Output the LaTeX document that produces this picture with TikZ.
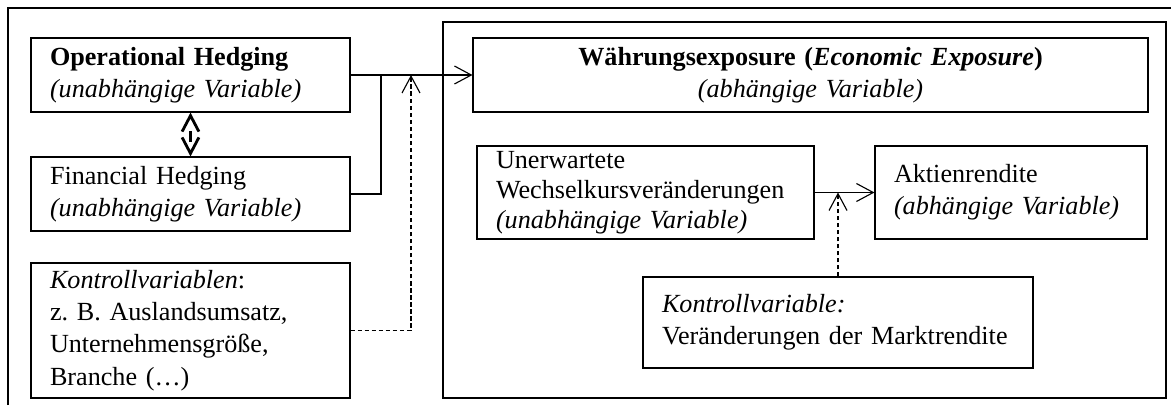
\documentclass[tikz,border=0pt]{standalone}
\usepackage{fontspec}
\setmainfont{Liberation Serif}
\usetikzlibrary{arrows.meta}

\tikzset{
  box/.style={draw, line width=0.8pt, align=left, inner xsep=0.475cm, inner ysep=1pt,
    font=\fontsize{18.6}{23}\selectfont},
  arr/.style={line width=0.8pt, -{Straight Barb[length=0.42cm,width=0.45cm]}},
  darr/.style={arr, dash pattern=on 3pt off 2pt},
  dblarr/.style={line width=2pt, dash pattern=on 0pt off 10pt on 8pt off 20pt,
    {Straight Barb[length=0.4cm,width=0.42cm]}-{Straight Barb[length=0.4cm,width=0.42cm]}},
}

\begin{document}
\begin{tikzpicture}
        \useasboundingbox (0,0) rectangle (29.275,-10.125);

        % Draw the outer frame and the frame of the exposure model
        \draw[line width=0.8pt] (0.2,-10.125) |- (29.275,-0.2);
        \draw[line width=0.8pt] (11.075,-0.55) rectangle (29.15,-9.95);

        % Hedging variables and controls
        \node[box, text width=7.025cm, minimum height=1.85cm] (oh) at (4.7625,-1.875)
            {\textbf{Operational Hedging}\\\textit{(unabhängige Variable)}};
        \node[box, text width=7.025cm, minimum height=1.85cm] (fh) at (4.7625,-4.85)
            {Financial Hedging\\\textit{(unabhängige Variable)}};
        \node[box, text width=7.025cm, minimum height=3.375cm] (kv) at (4.7625,-8.2625)
            {\textit{Kontrollvariablen}:\\z.~B. Auslandsumsatz,\\Unternehmensgröße,\\Branche (…)};

        % Exposure model
        \node[box, align=center, text width=15.925cm, minimum height=1.85cm] (we) at (20.2625,-1.875)
            {\textbf{Währungsexposure (\textit{Economic Exposure})}\\\textit{(abhängige Variable)}};
        \node[box, text width=7.475cm, minimum height=2.325cm, inner ysep=0pt,
            font=\fontsize{18.6}{21.5}\selectfont] (uw) at (16.1375,-4.8125)
            {Unerwartete\\Wechselkursveränderungen\\\textit{(unabhängige Variable)}};
        \node[box, text width=5.85cm, minimum height=2.325cm] (ar) at (25.275,-4.8125)
            {Aktienrendite\\\textit{(abhängige Variable)}};
        \node[box, text width=8.8cm, minimum height=2.275cm] (mk) at (20.95,-8.0625)
            {\textit{Kontrollvariable:}\\Veränderungen der Marktrendite};

        % Junctions on the arrows
        \coordinate (j1) at (9.525,-1.875);
        \coordinate (j2) at (10.275,-1.875);
        \coordinate (j3) at (20.95,-4.8125);

        % Connections
        \draw[dblarr] (oh.south) -- (fh.north);
        \draw[arr] (oh.east) -- (we.west);
        \draw[line width=0.8pt] (fh.east) -| (j1);
        \draw[darr] (kv.east) -| (j2);
        \draw[arr] (uw.east) -- (ar.west);
        \draw[darr] (mk.north) -- (j3);

    \end{tikzpicture}
\end{document}
